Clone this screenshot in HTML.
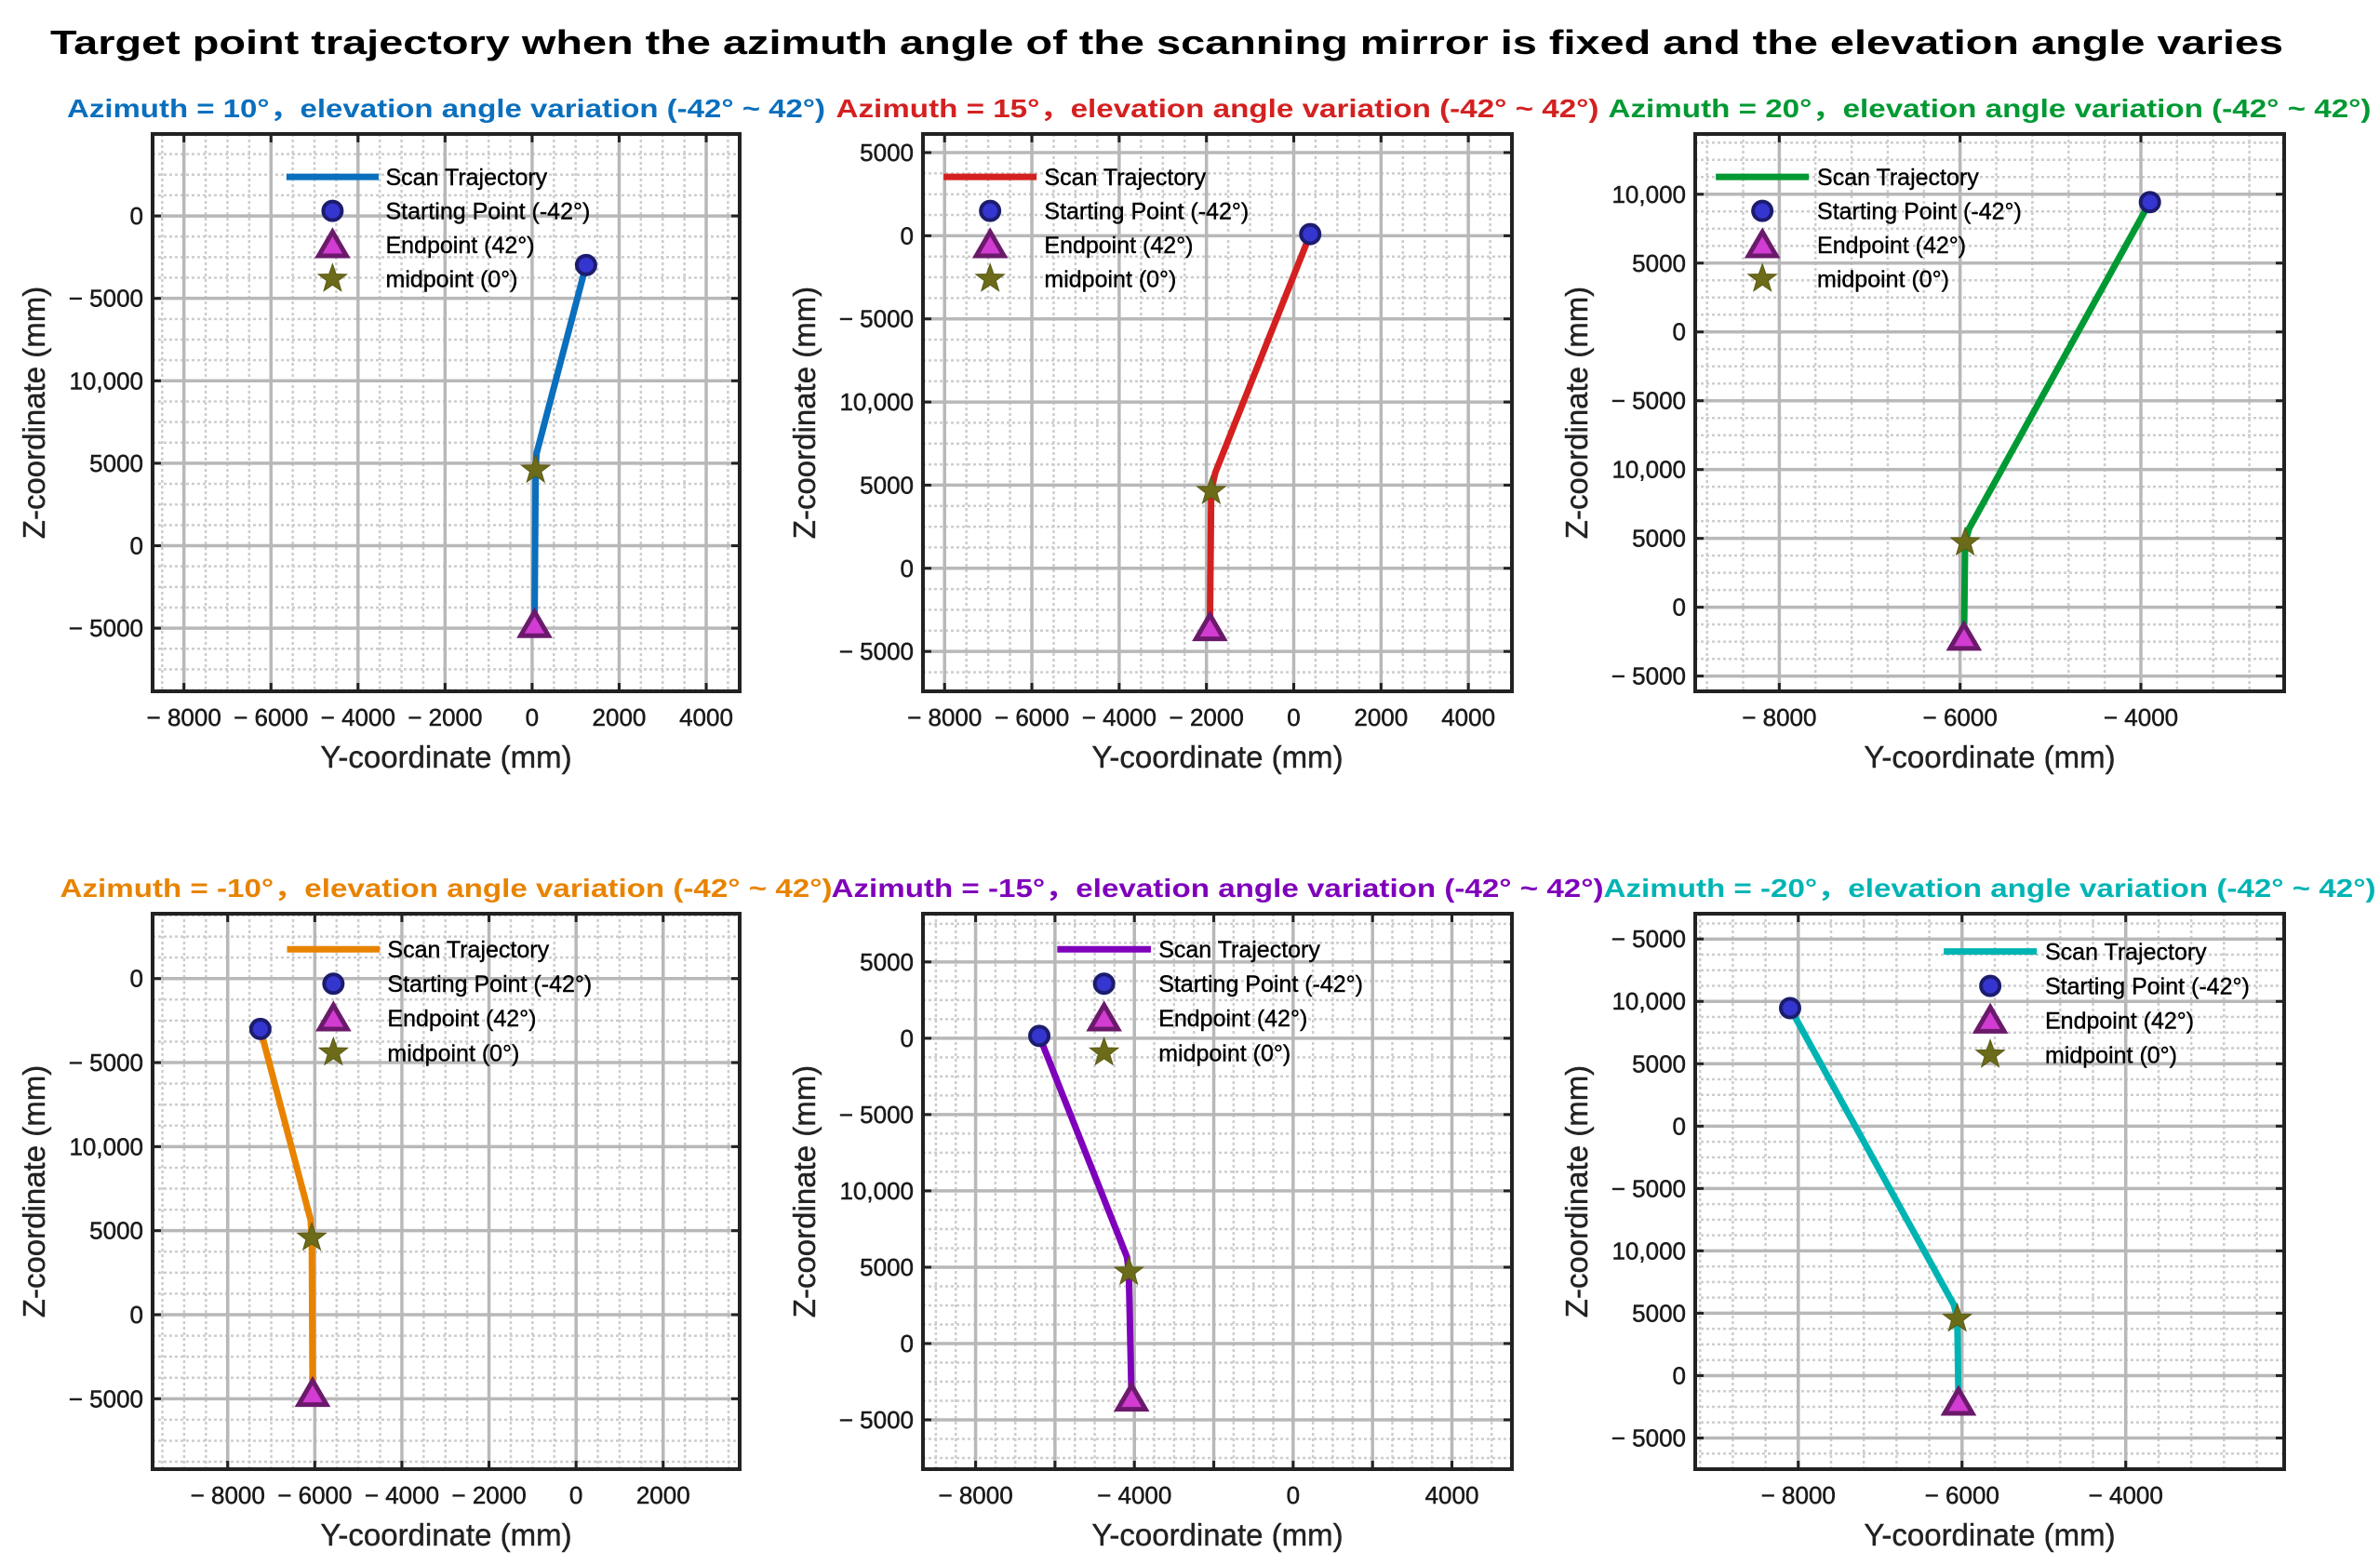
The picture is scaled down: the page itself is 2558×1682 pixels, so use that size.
<!DOCTYPE html>
<html><head><meta charset="utf-8"><style>
html,body{margin:0;padding:0;background:#fff;}
svg{display:block;font-family:"Liberation Sans","Noto Sans CJK SC",sans-serif;}
</style></head><body>
<svg id="fig" width="2558" height="1682" viewBox="0 0 2558 1682" xmlns="http://www.w3.org/2000/svg">
<rect width="2558" height="1682" fill="#fff"/>
<text x="1254" y="58" text-anchor="middle" font-size="36" font-weight="bold" fill="#000" textLength="2400" lengthAdjust="spacingAndGlyphs">Target point trajectory when the azimuth angle of the scanning mirror is fixed and the elevation angle varies</text>
</svg>
<script>
// ---- data (Y-coordinate, Z-coordinate in mm): start, kink, midpoint, end ----
const p1Y = [1240, 100, 80, 55];
const p1Z = [17020, 5580, 4600, -4850];
const p2Y = [378, -1800, -1890, -1920];
const p2Z = [20100, 5740, 4640, -3640];
const p3Y = [-3900, -5900, -5944, -5957];
const p3Z = [29430, 5720, 4700, -2260];
const p4Y = [-7250, -6095, -6070, -6050];
const p4Z = [17000, 5630, 4580, -4750];
const p5Y = [-6395, -4186, -4140, -4070];
const p5Z = [20150, 5660, 4690, -3650];
const p6Y = [-8100, -6100, -6058, -6043];
const p6Z = [29460, 5680, 4560, -2220];

// ---- ticks ----
const xt1 = [-8000,-6000,-4000,-2000,0,2000,4000];
const xl1 = ["− 8000","− 6000","− 4000","− 2000","0","2000","4000"];
const yt1 = [20000,15000,10000,5000,0,-5000];
const yl1 = ["0","− 5000","10,000","5000","0","− 5000"];
const yt2 = [25000,20000,15000,10000,5000,0,-5000];
const yl2 = ["5000","0","− 5000","10,000","5000","0","− 5000"];
const xt3 = [-8000,-6000,-4000];
const xl3 = ["− 8000","− 6000","− 4000"];
const yt3 = [30000,25000,20000,15000,10000,5000,0,-5000];
const yl3 = ["10,000","5000","0","− 5000","10,000","5000","0","− 5000"];
const xt4 = [-8000,-6000,-4000,-2000,0,2000];
const xl4 = ["− 8000","− 6000","− 4000","− 2000","0","2000"];
const xt5 = [-8000,-6000,-4000,-2000,0,2000,4000];
const xl5 = ["− 8000","","− 4000","","0","","4000"];
const yt6 = [35000,30000,25000,20000,15000,10000,5000,0,-5000];
const yl6 = ["− 5000","10,000","5000","0","− 5000","10,000","5000","0","− 5000"];

const NS = "http://www.w3.org/2000/svg";
const svg = document.getElementById('fig');
function mk(tag, attrs, parent){
  const e = document.createElementNS(NS, tag);
  for (const k in attrs) e.setAttribute(k, attrs[k]);
  (parent||svg).appendChild(e);
  return e;
}

const panels = [
 {id:1,L:164,T:144,R:795,B:743,xlim:[-8720,4769],ylim:[-8830,24970],xt:xt1,xl:xl1,yt:yt1,yl:yl1,xm:4,ym:4,color:"#0a6fbd",az:"10",Y:p1Y,Z:p1Z,lg:[0.228,0.385,0.397,0.077,0.061]},
 {id:2,L:992,T:144,R:1625,B:743,xlim:[-8495,4999],ylim:[-7400,26120],xt:xt1,xl:xl1,yt:yt2,yl:yl2,xm:4,ym:4,color:"#d42020",az:"15",Y:p2Y,Z:p2Z,lg:[0.035,0.193,0.206,0.077,0.061]},
 {id:3,L:1822,T:144,R:2455,B:743,xlim:[-8930,-2415],ylim:[-6110,34380],xt:xt3,xl:xl3,yt:yt3,yl:yl3,xm:5,ym:4,color:"#009933",az:"20",Y:p3Y,Z:p3Z,lg:[0.035,0.193,0.207,0.077,0.061]},
 {id:4,L:164,T:982,R:795,B:1579,xlim:[-9725,3757],ylim:[-9190,23860],xt:xt4,xl:xl4,yt:yt1,yl:yl1,xm:4,ym:4,color:"#e88300",az:"-10",Y:p4Y,Z:p4Z,lg:[0.229,0.387,0.4,0.064,0.062]},
 {id:5,L:992,T:982,R:1625,B:1579,xlim:[-9326,5512],ylim:[-8230,28160],xt:xt5,xl:xl5,yt:yt2,yl:yl2,xm:4,ym:4,color:"#7f00bb",az:"-15",Y:p5Y,Z:p5Z,lg:[0.228,0.387,0.4,0.064,0.062]},
 {id:6,L:1822,T:982,R:2455,B:1579,xlim:[-9259,-2065],ylim:[-7500,37030],xt:xt3,xl:xl3,yt:yt6,yl:yl6,xm:5,ym:4,color:"#00b4b4",az:"-20",Y:p6Y,Z:p6Z,lg:[0.422,0.58,0.594,0.068,0.062]}
];

function starPath(cx, cy, ro, ri){
  let d = "";
  for (let i=0;i<10;i++){
    const r = i%2===0 ? ro : ri;
    const a = -Math.PI/2 + i*Math.PI/5;
    d += (i===0?"M":"L") + (cx + r*Math.cos(a)).toFixed(1) + " " + (cy + r*Math.sin(a)).toFixed(1);
  }
  return d + "Z";
}
function circleMarker(g, x, y){
  const c = mk('circle',{cx:x,cy:y,r:10,fill:"#3535d0",stroke:"#1c1c6e","stroke-width":4},g);
  
  
  return c;
}
function triMarker(g, x, y){
  const s = 15;
  const p = mk('polygon',{points:`${x},${y-s} ${x-s},${y+s*0.72} ${x+s},${y+s*0.72}`,fill:"#d23cd2",stroke:"#6b1a6b","stroke-width":5,"stroke-linejoin":"miter"},g);
  
  
  return p;
}
function starMarker(g, x, y){
  const p = mk('path',{d:starPath(x,y,16,6.5),fill:"#6b6b1a",stroke:"#5a5a14","stroke-width":1},g);
  
  
  return p;
}

panels.forEach(P=>{
  const W = P.R-P.L, H = P.B-P.T;
  const sx = v => P.L + (v-P.xlim[0])/(P.xlim[1]-P.xlim[0])*W;
  const sy = v => P.B - (v-P.ylim[0])/(P.ylim[1]-P.ylim[0])*H;
  const g = mk('g',{});
  
  
  mk('rect',{x:P.L,y:P.T,width:W,height:H,fill:"#fff"},g);

  const xs = P.xt[1]-P.xt[0];
  const ys = P.yt[0]-P.yt[1];
  const gm = mk('g',{stroke:"#cdcdcd","stroke-width":2.5,"stroke-dasharray":"3 3"},g);
  
  
  const xstep = xs/P.xm, ystep = ys/P.ym;
  for (let v = Math.ceil(P.xlim[0]/xstep)*xstep; v<P.xlim[1]; v+=xstep){
    mk('line',{x1:sx(v),x2:sx(v),y1:P.T,y2:P.B},gm);
  }
  for (let v = Math.ceil(P.ylim[0]/ystep)*ystep; v<P.ylim[1]; v+=ystep){
    mk('line',{x1:P.L,x2:P.R,y1:sy(v),y2:sy(v)},gm);
  }
  const gM = mk('g',{stroke:"#b8b8b8","stroke-width":3.5},g);
  
  
  P.xt.forEach(v=>mk('line',{x1:sx(v),x2:sx(v),y1:P.T,y2:P.B},gM));
  P.yt.forEach(v=>mk('line',{x1:P.L,x2:P.R,y1:sy(v),y2:sy(v)},gM));

  const gt = mk('g',{stroke:"#222","stroke-width":3},g);
  P.xt.forEach(v=>{ mk('line',{x1:sx(v),x2:sx(v),y1:P.B,y2:P.B-9},gt); mk('line',{x1:sx(v),x2:sx(v),y1:P.T,y2:P.T+9},gt); });
  P.yt.forEach(v=>{ mk('line',{x1:P.L,x2:P.L+9,y1:sy(v),y2:sy(v)},gt); mk('line',{x1:P.R,x2:P.R-9,y1:sy(v),y2:sy(v)},gt); });

  P.xt.forEach((v,i)=>{
    const t = mk('text',{x:sx(v),y:P.B+37,"text-anchor":"middle","font-size":26,fill:"#1a1a1a",stroke:"#1a1a1a","stroke-width":0.5},g);
    t.textContent = P.xl[i];
    
    
  });
  P.yt.forEach((v,i)=>{
    const t = mk('text',{x:P.L-10,y:sy(v)+9,"text-anchor":"end","font-size":26,fill:"#1a1a1a",stroke:"#1a1a1a","stroke-width":0.5},g);
    t.textContent = P.yl[i];
    
    
  });

  const xa = mk('text',{x:(P.L+P.R)/2,y:P.B+82,"text-anchor":"middle","font-size":33,fill:"#222",stroke:"#222","stroke-width":0.4},g);
  xa.textContent = "Y-coordinate (mm)";
  
  
  const ycx = P.L-116, ycy = (P.T+P.B)/2;
  const ya = mk('text',{x:ycx,y:ycy,"text-anchor":"middle","font-size":33,fill:"#222",stroke:"#222","stroke-width":0.4,transform:`rotate(-90 ${ycx} ${ycy})`},g);
  ya.textContent = "Z-coordinate (mm)";
  
  

  const st = mk('text',{x:(P.L+P.R)/2,y:P.T-18,"text-anchor":"middle","font-size":28,"font-weight":"bold",fill:P.color,textLength:(P.id===1?815:(P.id<=3?820:830)),lengthAdjust:"spacingAndGlyphs"},g);
  st.textContent = "Azimuth = "+P.az+"°，elevation angle variation (-42° ~ 42°)";
  
  

  const pts = P.Y.map((y,i)=>sx(y).toFixed(1)+","+sy(P.Z[i]).toFixed(1)).join(" ");
  const line = mk('polyline',{points:pts,fill:"none",stroke:P.color,"stroke-width":7,"stroke-linejoin":"round"},g);
  
  
  circleMarker(g, sx(P.Y[0]), sy(P.Z[0]));
  triMarker(g, sx(P.Y[3]), sy(P.Z[3]));
  starMarker(g, sx(P.Y[2]), sy(P.Z[2]));

  const box = mk('rect',{x:P.L,y:P.T,width:W,height:H,fill:"none",stroke:"#222","stroke-width":4},g);
  
  

  const lg = P.lg;
  const leg = mk('g',{},g);
  
  
  const lx1 = P.L+lg[0]*W, lx2 = P.L+lg[1]*W, tx = P.L+lg[2]*W, mx = (lx1+lx2)/2;
  const labels = ["Scan Trajectory","Starting Point (-42°)","Endpoint (42°)","midpoint (0°)"];
  labels.forEach((s,i)=>{
    const ry = P.T + (lg[3]+i*lg[4])*H;
    if (i===0){
      const l = mk('line',{x1:lx1,x2:lx2,y1:ry,y2:ry,stroke:P.color,"stroke-width":7},leg);
      
      
    } else if (i===1) circleMarker(leg, mx, ry);
    else if (i===2) triMarker(leg, mx, ry+1);
    else starMarker(leg, mx, ry);
    const t = mk('text',{x:tx,y:ry+9,"font-size":25,fill:"#000",stroke:"#000","stroke-width":0.4},leg);
    t.textContent = s;
    
    
  });
});
</script>
</body></html>
